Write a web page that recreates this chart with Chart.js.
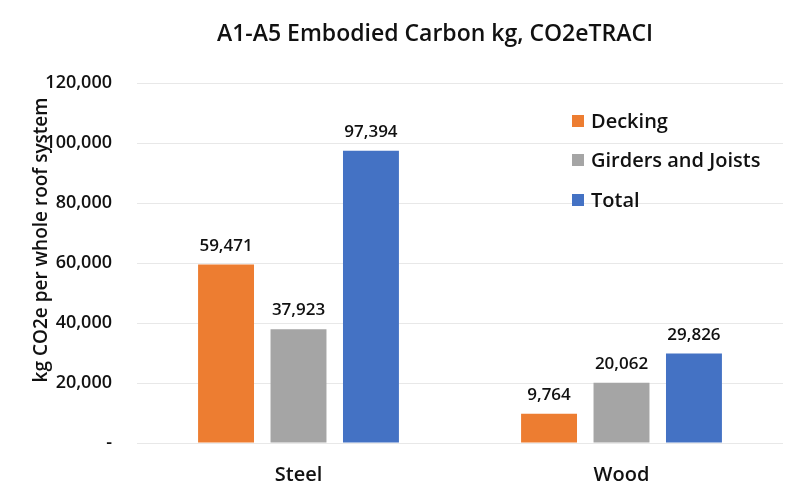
<!DOCTYPE html>
<html>
<head>
<meta charset="utf-8">
<script src="https://cdn.jsdelivr.net/npm/chart.js@4"></script>
<style>
  html, body { margin: 0; padding: 0; background: #fff; }
  #wrap { width: 800px; height: 500px; position: relative; }
</style>
</head>
<body>
<div id="wrap"><canvas id="c" width="800" height="500"></canvas></div>
<script>
const chartTitle = 'A1-A5 Embodied Carbon kg, CO2eTRACI';
const yAxisTitle = 'kg CO2e per whole roof system';
const categories = ['Steel', 'Wood'];
const seriesNames = ['Decking', 'Girders and Joists', 'Total'];
const decking = [59471, 9764];
const girdersAndJoists = [37923, 20062];
const total = [97394, 29826];
const seriesColors = ['#ED7D31', '#A5A5A5', '#4472C4'];
const yTicks = [0, 20000, 40000, 60000, 80000, 100000, 120000];

const FONT = '"Open Sans", "DejaVu Sans", sans-serif';
const TEXT = '#111111';
const fmt = v => v.toLocaleString('en-US');

const overlayPlugin = {
  id: 'overlay',
  afterDatasetsDraw(chart) {
    const ctx = chart.ctx;
    ctx.save();
    ctx.font = '600 17px ' + FONT;
    ctx.fillStyle = TEXT;
    ctx.textAlign = 'center';
    ctx.textBaseline = 'alphabetic';
    chart.data.datasets.forEach((ds, di) => {
      const meta = chart.getDatasetMeta(di);
      meta.data.forEach((bar, i) => {
        ctx.fillText(fmt(ds.data[i]), bar.x, bar.y - 14);
      });
    });
    ctx.restore();
  },
  afterDraw(chart) {
    const ctx = chart.ctx;
    ctx.save();
    ctx.font = '600 23px ' + FONT;
    ctx.fillStyle = TEXT;
    ctx.textAlign = 'center';
    ctx.textBaseline = 'alphabetic';
    ctx.fillText(chartTitle, 435, 41);
    ctx.save();
    ctx.translate(47, 240);
    ctx.rotate(-Math.PI / 2);
    ctx.font = '600 19px ' + FONT;
    ctx.textAlign = 'center';
    ctx.textBaseline = 'alphabetic';
    ctx.fillText(yAxisTitle, 0, 0);
    ctx.restore();
    ctx.font = '600 20px ' + FONT;
    ctx.textAlign = 'left';
    ctx.textBaseline = 'middle';
    const ys = [121, 160, 200];
    chart.data.datasets.forEach((ds, di) => {
      ctx.fillStyle = ds.backgroundColor;
      ctx.fillRect(572, ys[di] - 6, 12, 12);
      ctx.fillStyle = TEXT;
      ctx.fillText(ds.label, 591, ys[di] + 1);
    });
    ctx.restore();
  }
};

const dataArrays = [decking, girdersAndJoists, total];

new Chart(document.getElementById('c'), {
  type: 'bar',
  data: {
    labels: categories,
    datasets: seriesNames.map((name, i) => ({
      label: name,
      data: dataArrays[i],
      backgroundColor: seriesColors[i],
      borderWidth: 0,
      categoryPercentage: 0.673,
      barPercentage: 0.772
    }))
  },
  options: {
    responsive: false,
    animation: false,
    devicePixelRatio: 1,
    layout: { padding: { top: 83, right: 17, left: 0, bottom: 0 } },
    plugins: {
      legend: { display: false },
      title: { display: false },
      tooltip: { enabled: false }
    },
    scales: {
      x: {
        grid: { display: false },
        border: { display: false },
        ticks: {
          color: TEXT,
          font: { family: FONT, size: 20, weight: '600' },
          padding: 12
        },
        afterFit(scale) { scale.height = 57; }
      },
      y: {
        min: 0,
        max: 120000,
        afterBuildTicks(scale) { scale.ticks = yTicks.map(v => ({ value: v })); },
        grid: { color: '#e8e8e8', lineWidth: 1, drawTicks: false },
        border: { display: false },
        ticks: {
          color: TEXT,
          font: { family: FONT, size: 18, weight: '600' },
          padding: 25,
          callback: v => v === 0 ? '-' : fmt(v)
        },
        afterFit(scale) { scale.width = 137; }
      }
    }
  },
  plugins: [overlayPlugin]
});
</script>
</body>
</html>
